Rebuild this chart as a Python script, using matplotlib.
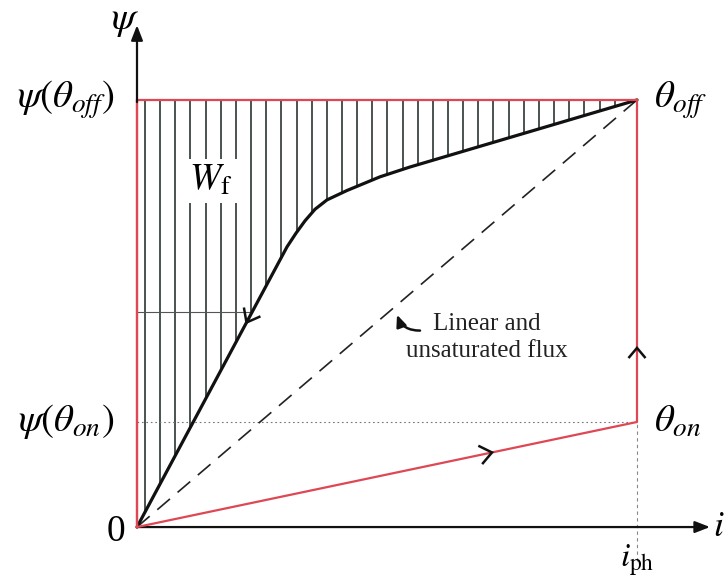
import numpy as np
import matplotlib
matplotlib.use("Agg")
import matplotlib.pyplot as plt

plt.rcParams['mathtext.fontset'] = 'stix'
plt.rcParams['font.family'] = ['Liberation Serif', 'DejaVu Serif']

# Magnetisation curve at the aligned position (current, flux linkage), per-unit
i_curve = [0.0, 0.30, 0.318, 0.336, 0.356, 0.38, 0.42, 0.486, 0.546, 1.0]
psi_curve = [0.0, 0.656, 0.688, 0.717, 0.744, 0.766, 0.788, 0.820, 0.843, 1.0]

# Operating points
i_ph = 1.0
psi_off = 1.0
psi_on = 0.246
psi_mark = 0.503   # thin horizontal guide level

RED = '#de4753'

fig = plt.figure(figsize=(7.27, 5.83), dpi=100)
ax = fig.add_axes([0, 0, 1, 1])
ax.set_xlim(-0.274, 1.18)
ax.set_ylim(-0.131, 1.234)
ax.axis('off')

# Hatching of the co-energy region between the curve and psi(theta_off)
hatch_x = np.arange(0.016, 0.99, 0.0303)
hatch_lo = np.interp(hatch_x, i_curve, psi_curve)
ax.vlines(hatch_x, hatch_lo, psi_off, color='#1a2520', lw=1.1, zorder=2)

# Thin guide lines
ax.plot([0, np.interp(psi_mark, psi_curve, i_curve)], [psi_mark, psi_mark],
        color='#555555', lw=0.8, zorder=2)
ax.plot([0, i_ph], [psi_on, psi_on], color='#777777', lw=0.8,
        ls=(0, (1.5, 2.5)), zorder=2)
ax.plot([i_ph, i_ph], [-0.08, psi_on], color='#888888', lw=0.8,
        ls=(0, (3, 3)), zorder=2)

# Linear (unsaturated) characteristic
ax.plot([0, i_ph], [0, psi_off], color='#222222', lw=1.2,
        ls=(0, (10, 6)), zorder=3)

# Magnetisation curve
ax.plot(i_curve, psi_curve, color='#111111', lw=2.3, zorder=4,
        solid_capstyle='round', solid_joinstyle='round')

# Energy conversion loop
ax.plot([0, 0, i_ph], [0, psi_off, psi_off], color=RED, lw=1.6, zorder=5)
ax.plot([0, i_ph, i_ph], [0, psi_on, psi_off], color=RED, lw=1.6, zorder=5)

# Axes with filled arrowheads
ax.annotate('', xy=(0, 1.175), xytext=(0, 0.995),
            arrowprops=dict(arrowstyle='-|>,head_length=0.9,head_width=0.35',
                            color='#111111', lw=1.6, shrinkA=0, shrinkB=0),
            zorder=6)
ax.annotate('', xy=(1.146, 0), xytext=(0, 0),
            arrowprops=dict(arrowstyle='-|>,head_length=0.9,head_width=0.35',
                            color='#111111', lw=1.6, shrinkA=0, shrinkB=0),
            zorder=4)
ax.plot([0, 0], [0, 1.0], color=RED, lw=1.6, zorder=5)


def chevron(x0, y0, x1, y1, frac, size=14, spread=38):
    """Open arrowhead on segment (x0,y0)->(x1,y1) at fraction frac."""
    p0 = ax.transData.transform((x0, y0))
    p1 = ax.transData.transform((x1, y1))
    tip = p0 + frac * (p1 - p0)
    d = (p1 - p0) / np.hypot(*(p1 - p0))
    pts = []
    for sgn in (1, -1):
        a = np.deg2rad(180 + sgn * spread)
        r = np.array([[np.cos(a), -np.sin(a)], [np.sin(a), np.cos(a)]])
        pts.append(tip + size * (r @ d))
    disp = np.array([pts[0], tip, pts[1]])
    data = ax.transData.inverted().transform(disp)
    ax.plot(data[:, 0], data[:, 1], color='#111111', lw=1.8, zorder=7,
            solid_joinstyle='miter')


chevron(i_curve[1], psi_curve[1], 0, 0, 0.27)
chevron(0, 0, i_ph, psi_on, 0.71)
chevron(i_ph, psi_on, i_ph, psi_off, 0.23, size=12, spread=40)

# Labels
ax.text(-0.024, 1.187, r'$\psi$', fontsize=28, ha='center', va='center')
ax.text(-0.045, psi_off, r'$\psi(\theta_{off})$', fontsize=28,
        ha='right', va='center')
ax.text(-0.045, psi_on, r'$\psi(\theta_{on})$', fontsize=28,
        ha='right', va='center')
ax.text(-0.024, -0.01, '0', fontsize=27, ha='right', va='center')
ax.text(1.034, psi_off, r'$\theta_{off}$', fontsize=28, ha='left', va='center')
ax.text(1.034, psi_on, r'$\theta_{on}$', fontsize=28, ha='left', va='center')
ax.text(1.151, 0.0, r'$i$', fontsize=26, ha='left', va='center')
ax.text(i_ph, -0.093, r'$i_{\mathrm{ph}}$', fontsize=24, ha='center',
        va='baseline')
ax.text(0.148, 0.81, r'$W_{\mathrm{f}}$', fontsize=27, ha='center',
        va='center', zorder=6,
        bbox=dict(boxstyle='square,pad=0.12', fc='white', ec='none'))

ax.text(0.70, 0.443, 'Linear and\nunsaturated flux', fontsize=18,
        ha='center', va='center', linespacing=1.3, color='#222222')
ax.annotate('', xy=(0.52, 0.497), xytext=(0.566, 0.46),
            arrowprops=dict(arrowstyle='-|>,head_length=0.7,head_width=0.3',
                            color='#111111', lw=1.8,
                            connectionstyle='arc3,rad=-0.35',
                            shrinkA=0, shrinkB=0), zorder=7)

fig.savefig('out.png', dpi=100)
